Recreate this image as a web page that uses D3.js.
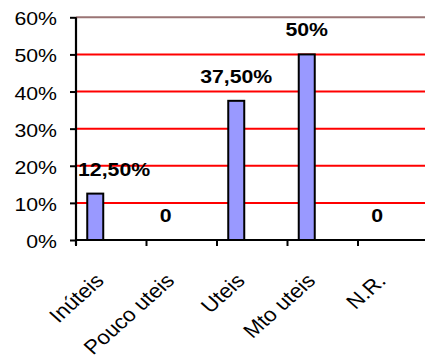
<!DOCTYPE html>
<html>
<head>
<meta charset="utf-8">
<script src="https://cdn.jsdelivr.net/npm/d3@7"></script>
<style>
  html, body { margin: 0; padding: 0; background: #fff; }
  svg { display: block; font-family: Arial, "Liberation Sans", sans-serif; }
</style>
</head>
<body>
<svg id="chart" width="425" height="359"></svg>
<script>
// Categories and shares of answers
const categories = ["Inúteis", "Pouco uteis", "Uteis", "Mto uteis", "N.R."];
const values = [0.125, 0, 0.375, 0.5, 0];
const yTicks = [0, 0.1, 0.2, 0.3, 0.4, 0.5, 0.6];

const svg = d3.select("#chart");
const plot = { left: 76, top: 17.3, bottom: 240, step: 70.5 };
plot.right = plot.left + plot.step * categories.length;

const x = d3.scaleBand().domain(categories).range([plot.left, plot.right]).padding(0);
// three slots per category; only the first slot carries data
const slot = d3.scaleBand().domain([0, 1, 2]).range([0, x.bandwidth()]).paddingInner(0).paddingOuter(0.703);
const y = d3.scaleLinear().domain([0, 0.6]).range([plot.bottom, plot.top]);

const pt = d3.formatLocale({ decimal: ",", thousands: ".", grouping: [3], currency: ["R$", ""] });
const pctTick = pt.format(".0%");
const valueText = v => v === 0 ? "0"
  : (Math.round(v * 100) === v * 100 ? pt.format(".0%")(v) : pt.format(".2%")(v));

// text is drawn slightly wider than tall
const stretch = 1.12;

// horizontal gridlines
svg.append("g")
  .selectAll("line")
  .data(yTicks.filter(t => t > 0))
  .join("line")
  .attr("x1", plot.left).attr("x2", plot.right)
  .attr("y1", d => y(d)).attr("y2", d => y(d))
  .attr("stroke", d => d === 0.6 ? "#9a7474" : "#ff0000")
  .attr("stroke-width", 2);

// bars
svg.append("g")
  .selectAll("rect")
  .data(values.map((v, i) => ({ c: categories[i], v })).filter(d => d.v > 0))
  .join("rect")
  .attr("x", d => x(d.c) + slot(0))
  .attr("width", slot.bandwidth())
  .attr("y", d => y(d.v))
  .attr("height", d => y(0) - y(d.v))
  .attr("fill", "#9999ff")
  .attr("stroke", "#000")
  .attr("stroke-width", 2);

// y axis
const yAxis = svg.append("g").attr("transform", `translate(${plot.left},0)`)
  .call(d3.axisLeft(y).tickValues(yTicks).tickFormat(pctTick).tickSize(6).tickPadding(13));
yAxis.select(".domain").attr("stroke", "#000").attr("stroke-width", 2.2)
  .attr("d", `M0,${plot.top}V${plot.bottom + 5}`);
yAxis.selectAll(".tick line").attr("stroke", "#000").attr("stroke-width", 2);
yAxis.selectAll(".tick text")
  .attr("font-size", 19).attr("fill", "#000").attr("font-family", null)
  .attr("text-anchor", "end")
  .attr("x", null).attr("dy", null)
  .attr("transform", `translate(-19,7.5) scale(${stretch},1)`);

// x axis with ticks on category boundaries
const xg = svg.append("g").attr("transform", `translate(0,${plot.bottom})`);
xg.append("line").attr("x1", plot.left).attr("x2", plot.right)
  .attr("stroke", "#000").attr("stroke-width", 2.2);
xg.selectAll("line.tk")
  .data(categories)
  .join("line").attr("class", "tk")
  .attr("x1", d => x(d)).attr("x2", d => x(d))
  .attr("y1", 0).attr("y2", 6)
  .attr("stroke", "#000").attr("stroke-width", 2);
xg.selectAll("text")
  .data(categories)
  .join("text")
  .attr("text-anchor", "end")
  .attr("font-size", 20)
  .attr("transform", d => `translate(${x(d) + x.bandwidth() / 2 - 6},${42}) scale(${stretch},1) rotate(-45)`)
  .text(d => d);

// value labels above each bar
const lbl = svg.append("g")
  .selectAll("text")
  .data(values.map((v, i) => ({ c: categories[i], v })))
  .join("text")
  .attr("font-size", 19)
  .attr("font-weight", "bold")
  .text(d => valueText(d.v));
lbl.each(function (d) {
  const w = this.getComputedTextLength() * stretch;
  const cx = x(d.c) + slot(0) + slot.bandwidth() / 2;
  let left = cx - w / 2;
  if (left < plot.left + 2) left = plot.left + 2;
  d3.select(this).attr("transform", `translate(${left},${y(d.v) - 18}) scale(${stretch},1)`);
});
</script>
</body>
</html>
